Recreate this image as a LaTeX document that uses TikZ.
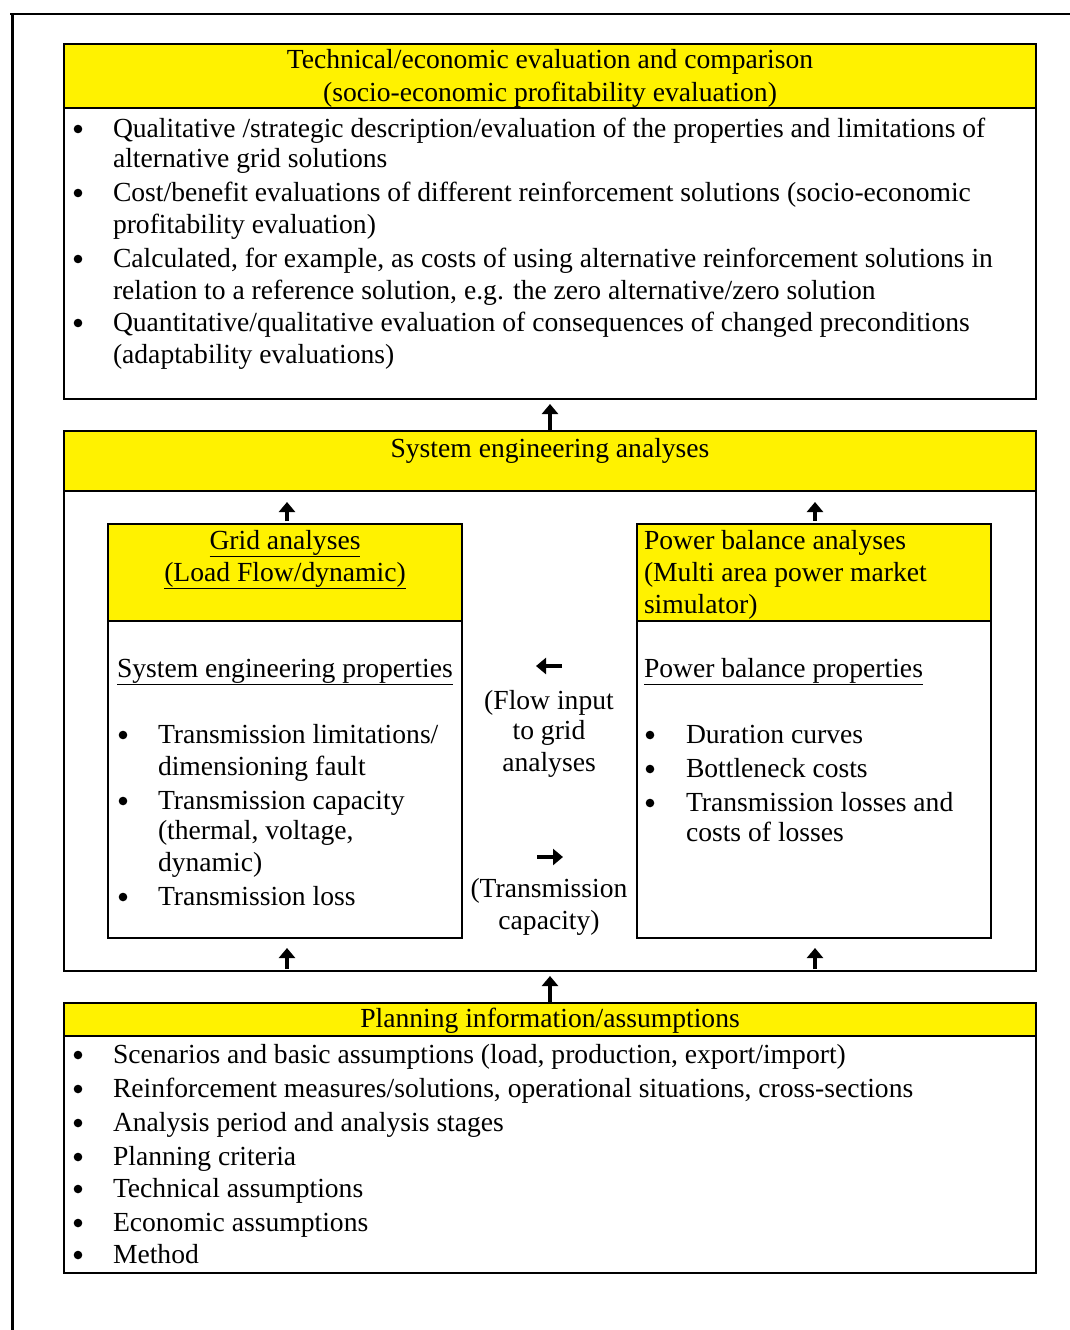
\documentclass[tikz,border=0pt]{standalone}
\usepackage{fontspec}
\setmainfont{Liberation Serif}
\usetikzlibrary{arrows.meta}
\begin{document}
\begin{tikzpicture}[x=1pt,y=-1pt,
  every node/.style={inner sep=0pt,outer sep=0pt,font=\fontsize{27.6}{32}\selectfont},
  boxbody/.style={draw=black,line width=1.5pt,fill=white,anchor=north west},
  boxhead/.style={draw=black,line width=1.5pt,fill=yellow,anchor=north west},
  txt/.style={anchor=base west},
  ctxt/.style={anchor=base},
  bulfill/.style={fill=black},
  arr/.style={line width=3.6pt,-{Triangle[width=16pt,length=10pt]}}
]
\useasboundingbox (0,0) rectangle (1070,1330);
% outer frame lines
\draw[line width=2.6pt] (10,14) -- (1070,14);
\draw[line width=3pt] (12,14) -- (12,1330);

% ---- top box
\node[boxbody,minimum width=972pt,minimum height=355pt] (topbox) at (64,44) {};
\node[boxhead,minimum width=972pt,minimum height=64pt] (tophead) at (64,44) {};
\node[ctxt] (th1) at (550,69) {Technical/economic evaluation and comparison};
\node[ctxt] (th2) at (550,101) {(socio-economic profitability evaluation)};
\foreach \y in {137,201,267,331} \fill[bulfill] (78,\y-8) circle (4.3pt);
\node[txt] (t1) at (113,137) {Qualitative /strategic description/evaluation of the properties and limitations of};
\node[txt] (t2) at (113,167) {alternative grid solutions};
\node[txt] (t3) at (113,201) {Cost/benefit evaluations of different reinforcement solutions (socio-economic};
\node[txt] (t4) at (113,233) {profitability evaluation)};
\node[txt] (t5) at (113,267) {Calculated, for example, as costs of using alternative reinforcement solutions in};
\node[txt] (t6) at (113,299) {relation to a reference solution, e.g. the zero alternative/zero solution};
\node[txt] (t7) at (113,331) {Quantitative/qualitative evaluation of consequences of changed preconditions};
\node[txt] (t8) at (113,363) {(adaptability evaluations)};

% ---- middle box
\node[boxbody,minimum width=972pt,minimum height=540pt] (midbox) at (64,431) {};
\node[boxhead,minimum width=972pt,minimum height=60pt] (midhead) at (64,431) {};
\node[ctxt] (mh) at (550,457) {System engineering analyses};

% left sub box
\node[boxbody,minimum width=354pt,minimum height=414pt] (lbox) at (108,524) {};
\node[boxhead,minimum width=354pt,minimum height=97pt] (lhead) at (108,524) {};
\node[ctxt] (lh1) at (285,549) {\underline{Grid analyses}};
\node[ctxt] (lh2) at (285,581) {\underline{(Load Flow/dynamic)}};
\node[txt] (lp) at (117,677) {\underline{System engineering properties}};
\foreach \y in {743,809,905} \fill[bulfill] (123,\y-8) circle (4.3pt);
\node[txt] (l1) at (158,743) {Transmission limitations/};
\node[txt] (l2) at (158,775) {dimensioning fault};
\node[txt] (l3) at (158,809) {Transmission capacity};
\node[txt] (l4) at (158,839) {(thermal, voltage,};
\node[txt] (l5) at (158,871) {dynamic)};
\node[txt] (l6) at (158,905) {Transmission loss};

% right sub box
\node[boxbody,minimum width=354pt,minimum height=414pt] (rbox) at (637,524) {};
\node[boxhead,minimum width=354pt,minimum height=97pt] (rhead) at (637,524) {};
\node[txt] (rh1) at (644,549) {Power balance analyses};
\node[txt] (rh2) at (644,581) {(Multi area power market};
\node[txt] (rh3) at (644,613) {simulator)};
\node[txt] (rp) at (644,677) {\underline{Power balance properties}};
\foreach \y in {743,777,811} \fill[bulfill] (650,\y-8) circle (4.3pt);
\node[txt] (r1) at (686,743) {Duration curves};
\node[txt] (r2) at (686,777) {Bottleneck costs};
\node[txt] (r3) at (686,811) {Transmission losses and};
\node[txt] (r4) at (686,841) {costs of losses};

% middle texts
\node[ctxt] (m1) at (549,709) {(Flow input};
\node[ctxt] (m2) at (549,739) {to grid};
\node[ctxt] (m3) at (549,771) {analyses};
\node[ctxt] (m4) at (549,897) {(Transmission};
\node[ctxt] (m5) at (549,929) {capacity)};
\coordinate (la1) at (562,666);
\coordinate (la2) at (536,666);
\coordinate (ra1) at (537,857);
\coordinate (ra2) at (563,857);
\draw[arr] (la1) -- (la2);
\draw[arr] (ra1) -- (ra2);

% ---- bottom box
\node[boxbody,minimum width=972pt,minimum height=270pt] (botbox) at (64,1003) {};
\node[boxhead,minimum width=972pt,minimum height=33pt] (bothead) at (64,1003) {};
\node[ctxt] (bh) at (550,1027) {Planning information/assumptions};
\foreach \y in {1063,1097,1131,1165,1197,1231,1263} \fill[bulfill] (78,\y-8) circle (4.3pt);
\node[txt] (b1) at (113,1063) {Scenarios and basic assumptions (load, production, export/import)};
\node[txt] (b2) at (113,1097) {Reinforcement measures/solutions, operational situations, cross-sections};
\node[txt] (b3) at (113,1131) {Analysis period and analysis stages};
\node[txt] (b4) at (113,1165) {Planning criteria};
\node[txt] (b5) at (113,1197) {Technical assumptions};
\node[txt] (b6) at (113,1231) {Economic assumptions};
\node[txt] (b7) at (113,1263) {Method};

% ---- vertical arrows
\draw[arr,shorten >=5pt] (midbox.north -| 550,0) -- (topbox.south -| 550,0);
\draw[arr,shorten >=5pt] (botbox.north -| 550,0) -- (midbox.south -| 550,0);
\draw[arr,shorten <=3pt,shorten >=11pt] (lbox.north -| 287,0) -- (midhead.south -| 287,0);
\draw[arr,shorten <=3pt,shorten >=11pt] (rbox.north -| 815,0) -- (midhead.south -| 815,0);
\draw[arr,shorten <=2pt,shorten >=10pt] (midbox.south -| 287,0) -- (lbox.south -| 287,0);
\draw[arr,shorten <=2pt,shorten >=10pt] (midbox.south -| 815,0) -- (rbox.south -| 815,0);
\end{tikzpicture}
\end{document}
